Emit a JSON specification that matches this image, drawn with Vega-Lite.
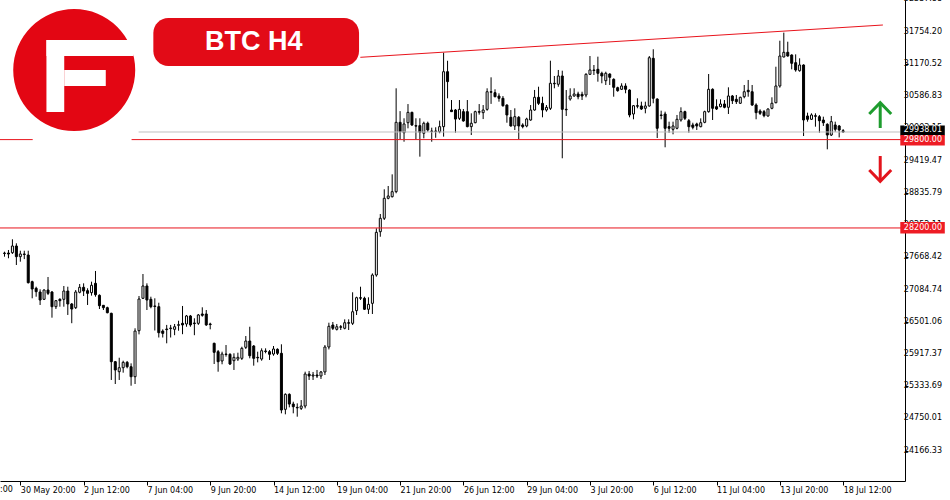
{
"$schema": "https://vega.github.io/schema/vega-lite/v6.json",
"width": 905, "height": 481,
"autosize": {"type": "none"},
"padding": {"left": 0, "top": 0, "right": 45, "bottom": 19},
"background": "white",
"config": {"view": {"stroke": null}, "font": "DejaVu Sans", "axis": {"labelOverlap": false, "labelBound": false, "labelFlush": false}},
"data": {"values": [{}]},
"datasets": {
"ticks": [{"v":24166.33},{"v":24750.01},{"v":25333.69},{"v":25917.37},{"v":26501.06},{"v":27084.74},{"v":27668.42},{"v":28252.11},{"v":28835.79},{"v":29419.47},{"v":30003.15},{"v":30586.83},{"v":31170.52},{"v":31754.20},{"v":32337.88}],
"candles": [
{"i":0,"o":27737,"h":27770,"l":27680,"c":27746},
{"i":1,"o":27746,"h":27801,"l":27651,"c":27728},
{"i":2,"o":27752,"h":27995,"l":27729,"c":27873},
{"i":3,"o":27873,"h":27922,"l":27529,"c":27680},
{"i":4,"o":27680,"h":27788,"l":27589,"c":27729},
{"i":5,"o":27729,"h":27788,"l":27636,"c":27719},
{"i":6,"o":27710,"h":27788,"l":27194,"c":27209},
{"i":7,"o":27227,"h":27245,"l":26926,"c":27095},
{"i":8,"o":27107,"h":27136,"l":26955,"c":27046},
{"i":9,"o":27040,"h":27089,"l":26805,"c":26895},
{"i":10,"o":26908,"h":27089,"l":26895,"c":27076},
{"i":11,"o":27076,"h":27312,"l":26985,"c":27016},
{"i":12,"o":27040,"h":27058,"l":26575,"c":26774},
{"i":13,"o":26774,"h":26895,"l":26732,"c":26883},
{"i":14,"o":26908,"h":26926,"l":26774,"c":26883},
{"i":15,"o":26908,"h":27149,"l":26774,"c":27058},
{"i":16,"o":27058,"h":27136,"l":26624,"c":26823},
{"i":17,"o":26823,"h":26841,"l":26475,"c":26732},
{"i":18,"o":26756,"h":27076,"l":26732,"c":27040},
{"i":19,"o":27035,"h":27185,"l":27016,"c":27125},
{"i":20,"o":27125,"h":27197,"l":26968,"c":27058},
{"i":21,"o":27064,"h":27107,"l":26805,"c":27016},
{"i":22,"o":27028,"h":27227,"l":26974,"c":27162},
{"i":23,"o":27197,"h":27421,"l":26955,"c":26991},
{"i":24,"o":26980,"h":26998,"l":26732,"c":26792},
{"i":25,"o":26799,"h":26805,"l":26714,"c":26756},
{"i":26,"o":26756,"h":26774,"l":26654,"c":26665},
{"i":27,"o":26654,"h":26665,"l":25447,"c":25778},
{"i":28,"o":25778,"h":25791,"l":25374,"c":25628},
{"i":29,"o":25597,"h":25850,"l":25447,"c":25669},
{"i":30,"o":25669,"h":25796,"l":25579,"c":25766},
{"i":31,"o":25766,"h":25791,"l":25658,"c":25687},
{"i":32,"o":25687,"h":25748,"l":25343,"c":25506},
{"i":33,"o":25506,"h":26383,"l":25374,"c":26333},
{"i":34,"o":26339,"h":26968,"l":26273,"c":26913},
{"i":35,"o":26926,"h":27366,"l":26913,"c":27149},
{"i":36,"o":27149,"h":27197,"l":26714,"c":26895},
{"i":37,"o":26908,"h":26955,"l":26745,"c":26774},
{"i":38,"o":26787,"h":26926,"l":26343,"c":26778},
{"i":39,"o":26774,"h":26846,"l":26216,"c":26303},
{"i":40,"o":26333,"h":26364,"l":26216,"c":26291},
{"i":41,"o":26370,"h":26444,"l":26111,"c":26359},
{"i":42,"o":26377,"h":26444,"l":26216,"c":26388},
{"i":43,"o":26364,"h":26461,"l":26258,"c":26411},
{"i":44,"o":26437,"h":26520,"l":26339,"c":26448},
{"i":45,"o":26473,"h":26787,"l":26276,"c":26444},
{"i":46,"o":26461,"h":26624,"l":26411,"c":26606},
{"i":47,"o":26606,"h":26624,"l":26411,"c":26444},
{"i":48,"o":26479,"h":26564,"l":26258,"c":26468},
{"i":49,"o":26473,"h":26642,"l":26444,"c":26624},
{"i":50,"o":26642,"h":26763,"l":26593,"c":26618},
{"i":51,"o":26642,"h":26714,"l":26426,"c":26444},
{"i":52,"o":26461,"h":26484,"l":26364,"c":26450},
{"i":53,"o":26111,"h":26122,"l":25736,"c":25948},
{"i":54,"o":25959,"h":25990,"l":25597,"c":25778},
{"i":55,"o":25791,"h":25959,"l":25731,"c":25917},
{"i":56,"o":25917,"h":26080,"l":25869,"c":25908},
{"i":57,"o":25912,"h":25930,"l":25718,"c":25736},
{"i":58,"o":25796,"h":25930,"l":25628,"c":25857},
{"i":59,"o":25826,"h":25941,"l":25791,"c":25857},
{"i":60,"o":25839,"h":26049,"l":25809,"c":26020},
{"i":61,"o":26038,"h":26243,"l":26008,"c":26152},
{"i":62,"o":26152,"h":26411,"l":25839,"c":25886},
{"i":63,"o":26062,"h":26080,"l":25706,"c":25839},
{"i":64,"o":25857,"h":25959,"l":25766,"c":25848},
{"i":65,"o":25826,"h":26020,"l":25796,"c":25977},
{"i":66,"o":25972,"h":26020,"l":25930,"c":25963},
{"i":67,"o":25959,"h":25990,"l":25809,"c":25912},
{"i":68,"o":25917,"h":26062,"l":25886,"c":26008},
{"i":69,"o":26002,"h":26020,"l":25899,"c":25930},
{"i":70,"o":25930,"h":26093,"l":24843,"c":24903},
{"i":71,"o":24915,"h":25205,"l":24825,"c":25187},
{"i":72,"o":25187,"h":25205,"l":24951,"c":25011},
{"i":73,"o":25011,"h":25053,"l":24843,"c":24963},
{"i":74,"o":24951,"h":25024,"l":24782,"c":24942},
{"i":75,"o":24933,"h":25083,"l":24903,"c":24975},
{"i":76,"o":24975,"h":25597,"l":24933,"c":25555},
{"i":77,"o":25555,"h":25610,"l":25447,"c":25519},
{"i":78,"o":25519,"h":25592,"l":25447,"c":25537},
{"i":79,"o":25537,"h":25628,"l":25483,"c":25519},
{"i":80,"o":25519,"h":25610,"l":25465,"c":25592},
{"i":81,"o":25592,"h":26080,"l":25537,"c":26044},
{"i":82,"o":26044,"h":26484,"l":26000,"c":26419},
{"i":83,"o":26442,"h":26497,"l":26352,"c":26383},
{"i":84,"o":26364,"h":26461,"l":26343,"c":26411},
{"i":85,"o":26411,"h":26442,"l":26352,"c":26402},
{"i":86,"o":26383,"h":26545,"l":26364,"c":26484},
{"i":87,"o":26484,"h":26545,"l":26352,"c":26475},
{"i":88,"o":26473,"h":27035,"l":26442,"c":26683},
{"i":89,"o":26702,"h":26955,"l":26624,"c":26937},
{"i":90,"o":26937,"h":27136,"l":26895,"c":26928},
{"i":91,"o":26926,"h":26955,"l":26714,"c":26727},
{"i":92,"o":26727,"h":26944,"l":26642,"c":26817},
{"i":93,"o":26835,"h":27378,"l":26642,"c":27348},
{"i":94,"o":27348,"h":28194,"l":27317,"c":28121},
{"i":95,"o":28132,"h":28453,"l":28041,"c":28375},
{"i":96,"o":28375,"h":28900,"l":28344,"c":28737},
{"i":97,"o":28737,"h":28960,"l":28719,"c":28779},
{"i":98,"o":28766,"h":29171,"l":28752,"c":28857},
{"i":99,"o":28857,"h":30729,"l":28828,"c":30113},
{"i":100,"o":30113,"h":30316,"l":29805,"c":29943},
{"i":101,"o":29925,"h":30186,"l":29762,"c":30083},
{"i":102,"o":30106,"h":30444,"l":30004,"c":30294},
{"i":103,"o":30294,"h":30305,"l":30047,"c":30065},
{"i":104,"o":30053,"h":30186,"l":29805,"c":30044},
{"i":105,"o":30053,"h":30186,"l":29491,"c":29933},
{"i":106,"o":29915,"h":30125,"l":29823,"c":30096},
{"i":107,"o":30096,"h":30125,"l":29943,"c":29975},
{"i":108,"o":29956,"h":30016,"l":29762,"c":29947},
{"i":109,"o":29947,"h":30023,"l":29833,"c":29956},
{"i":110,"o":29943,"h":30144,"l":29915,"c":30035},
{"i":111,"o":30035,"h":31373,"l":29854,"c":31030},
{"i":112,"o":31030,"h":31228,"l":30548,"c":30850},
{"i":113,"o":30336,"h":30517,"l":30300,"c":30306},
{"i":114,"o":30336,"h":30354,"l":29925,"c":30172},
{"i":115,"o":30185,"h":30517,"l":30155,"c":30348},
{"i":116,"o":30306,"h":30354,"l":30125,"c":30137},
{"i":117,"o":30306,"h":30517,"l":30023,"c":30035},
{"i":118,"o":30035,"h":30276,"l":29883,"c":30096},
{"i":119,"o":30106,"h":30324,"l":30096,"c":30306},
{"i":120,"o":30306,"h":30444,"l":30253,"c":30297},
{"i":121,"o":30288,"h":30426,"l":30172,"c":30336},
{"i":122,"o":30348,"h":30729,"l":30323,"c":30667},
{"i":123,"o":30667,"h":30928,"l":30447,"c":30658},
{"i":124,"o":30650,"h":30711,"l":30566,"c":30577},
{"i":125,"o":30589,"h":30638,"l":30487,"c":30548},
{"i":126,"o":30548,"h":30589,"l":30396,"c":30414},
{"i":127,"o":30426,"h":30439,"l":30106,"c":30246},
{"i":128,"o":30204,"h":30336,"l":30035,"c":30047},
{"i":129,"o":30047,"h":30367,"l":29974,"c":30215},
{"i":130,"o":30204,"h":30227,"l":29811,"c":30047},
{"i":131,"o":30065,"h":30096,"l":30004,"c":30035},
{"i":132,"o":30047,"h":30196,"l":30023,"c":30173},
{"i":133,"o":30155,"h":30426,"l":30142,"c":30336},
{"i":134,"o":30336,"h":30699,"l":30323,"c":30566},
{"i":135,"o":30566,"h":30758,"l":30426,"c":30457},
{"i":136,"o":30457,"h":30577,"l":30204,"c":30336},
{"i":137,"o":30336,"h":30426,"l":30306,"c":30384},
{"i":138,"o":30366,"h":31229,"l":30336,"c":30820},
{"i":139,"o":30820,"h":30952,"l":30729,"c":30811},
{"i":140,"o":30802,"h":31061,"l":30758,"c":30952},
{"i":141,"o":30952,"h":31048,"l":29462,"c":30349},
{"i":142,"o":30349,"h":30698,"l":30228,"c":30340},
{"i":143,"o":30535,"h":30729,"l":30505,"c":30590},
{"i":144,"o":30590,"h":30729,"l":30577,"c":30626},
{"i":145,"o":30626,"h":30667,"l":30530,"c":30577},
{"i":146,"o":30620,"h":30667,"l":30517,"c":30590},
{"i":147,"o":30608,"h":31001,"l":30566,"c":30983},
{"i":148,"o":30983,"h":31314,"l":30970,"c":31061},
{"i":149,"o":31061,"h":31151,"l":30970,"c":31052},
{"i":150,"o":31073,"h":31302,"l":30849,"c":31001},
{"i":151,"o":31001,"h":31030,"l":30820,"c":30952},
{"i":152,"o":30867,"h":31030,"l":30789,"c":31001},
{"i":153,"o":30988,"h":31001,"l":30789,"c":30928},
{"i":154,"o":30892,"h":30910,"l":30577,"c":30747},
{"i":155,"o":30740,"h":30758,"l":30667,"c":30686},
{"i":156,"o":30711,"h":30820,"l":30698,"c":30771},
{"i":157,"o":30771,"h":30820,"l":30639,"c":30711},
{"i":158,"o":30698,"h":30711,"l":30204,"c":30246},
{"i":159,"o":30264,"h":30426,"l":30168,"c":30414},
{"i":160,"o":30414,"h":30548,"l":30367,"c":30405},
{"i":161,"o":30409,"h":30487,"l":30336,"c":30354},
{"i":162,"o":30367,"h":30487,"l":30276,"c":30409},
{"i":163,"o":30409,"h":31314,"l":30396,"c":31283},
{"i":164,"o":31272,"h":31436,"l":30458,"c":30548},
{"i":165,"o":30535,"h":30548,"l":29829,"c":30005},
{"i":166,"o":30246,"h":30324,"l":30168,"c":30237},
{"i":167,"o":30264,"h":30306,"l":29661,"c":30005},
{"i":168,"o":30035,"h":30125,"l":29925,"c":30005},
{"i":169,"o":29986,"h":30125,"l":29896,"c":30047},
{"i":170,"o":30005,"h":30246,"l":29986,"c":30168},
{"i":171,"o":30155,"h":30385,"l":30125,"c":30306},
{"i":172,"o":30306,"h":30324,"l":30155,"c":30186},
{"i":173,"o":30142,"h":30173,"l":29925,"c":30034},
{"i":174,"o":30065,"h":30106,"l":29986,"c":30023},
{"i":175,"o":30083,"h":30106,"l":29974,"c":30047},
{"i":176,"o":30034,"h":30185,"l":30023,"c":30106},
{"i":177,"o":30113,"h":30324,"l":30096,"c":30306},
{"i":178,"o":30306,"h":30988,"l":30288,"c":30711},
{"i":179,"o":30711,"h":30729,"l":30155,"c":30367},
{"i":180,"o":30396,"h":30530,"l":30336,"c":30354},
{"i":181,"o":30396,"h":30530,"l":30385,"c":30445},
{"i":182,"o":30445,"h":30517,"l":30367,"c":30385},
{"i":183,"o":30385,"h":30747,"l":30264,"c":30590},
{"i":184,"o":30590,"h":30608,"l":30445,"c":30505},
{"i":185,"o":30530,"h":30608,"l":30445,"c":30487},
{"i":186,"o":30458,"h":30577,"l":30445,"c":30566},
{"i":187,"o":30577,"h":30789,"l":30548,"c":30667},
{"i":188,"o":30693,"h":30880,"l":30577,"c":30667},
{"i":189,"o":30667,"h":30789,"l":30409,"c":30427},
{"i":190,"o":30427,"h":30457,"l":30168,"c":30288},
{"i":191,"o":30318,"h":30349,"l":30246,"c":30276},
{"i":192,"o":30306,"h":30336,"l":30204,"c":30233},
{"i":193,"o":30228,"h":30367,"l":30215,"c":30354},
{"i":194,"o":30367,"h":30566,"l":30349,"c":30458},
{"i":195,"o":30468,"h":31120,"l":30458,"c":30771},
{"i":196,"o":30771,"h":31591,"l":30740,"c":31314},
{"i":197,"o":31296,"h":31737,"l":31290,"c":31381},
{"i":198,"o":31381,"h":31573,"l":31302,"c":31314},
{"i":199,"o":31332,"h":31345,"l":31073,"c":31182},
{"i":200,"o":31193,"h":31344,"l":31030,"c":31061},
{"i":201,"o":31048,"h":31272,"l":31030,"c":31151},
{"i":202,"o":31151,"h":31164,"l":29865,"c":30155},
{"i":203,"o":30228,"h":30288,"l":30125,"c":30168},
{"i":204,"o":30168,"h":30276,"l":30155,"c":30246},
{"i":205,"o":30233,"h":30276,"l":30034,"c":30222},
{"i":206,"o":30215,"h":30246,"l":29925,"c":30142},
{"i":207,"o":30155,"h":30215,"l":30047,"c":30106},
{"i":208,"o":30077,"h":30096,"l":29624,"c":29883},
{"i":209,"o":29883,"h":30228,"l":29865,"c":30125},
{"i":210,"o":30065,"h":30125,"l":29943,"c":29987},
{"i":211,"o":30047,"h":30065,"l":29840,"c":29974},
{"i":212,"o":29960,"h":29990,"l":29925,"c":29938}
]
},
"layer": [
{
"data": {"name": "candles"},
"mark": {"type": "rule", "color": "black", "strokeWidth": 1, "clip": true},
"encoding": {
"x": {"field": "i", "type": "quantitative", "scale": {"domain": [0.125, 226.375], "nice": false, "zero": false},
"axis": {"title": null, "values": [-12,4,20,36,52,68,84,100,116,132,148,164,180,196,212],
"labelExpr": "['26 May 04:00','30 May 20:00','2 Jun 12:00','7 Jun 04:00','9 Jun 20:00','14 Jun 12:00','19 Jun 04:00','21 Jun 20:00','26 Jun 12:00','29 Jun 04:00','3 Jul 20:00','6 Jul 12:00','11 Jul 04:00','13 Jul 20:00','18 Jul 12:00'][(datum.value+12)/16]",
"labelAlign": "left", "labelBaseline": "top", "labelPadding": 1, "labelDx": 0.5, "tickSize": 4, "tickColor": "black", "domainColor": "black", "labelColor": "black", "labelFont": "DejaVu Sans", "labelFontSize": 8, "labelOverlap": false, "labelBound": false, "labelFlush": false, "grid": false}},
"y": {"field": "l", "type": "quantitative", "scale": {"domain": [23617.4, 32328.3], "nice": false, "zero": false},
"axis": {"orient": "right", "title": null, "values": [24166.33,24750.01,25333.69,25917.37,26501.06,27084.74,27668.42,28252.11,28835.79,29419.47,30003.15,30586.83,31170.52,31754.20,32337.88],
"labels": false, "tickSize": 3, "tickColor": "black", "domainColor": "black", "grid": false}},
"y2": {"field": "h"}
}
},
{
"data": {"name": "candles"},
"mark": {"type": "bar", "size": 2, "stroke": "black", "strokeWidth": 1, "clip": true},
"encoding": {
"x": {"field": "i", "type": "quantitative", "scale": {"domain": [0.125, 226.375], "nice": false, "zero": false}},
"y": {"field": "o", "type": "quantitative", "scale": {"domain": [23617.4, 32328.3], "nice": false, "zero": false}},
"y2": {"field": "c"},
"fill": {"condition": {"test": "datum.c >= datum.o", "value": "white"}, "value": "black"}
}
},
{
"data": {"name": "ticks"},
"mark": {"type": "text", "font": "DejaVu Sans", "fontSize": 8, "color": "black", "align": "left", "baseline": "middle"},
"encoding": {"x": {"datum": 227.35}, "y": {"field": "v", "type": "quantitative"}, "text": {"field": "v", "type": "quantitative", "format": ".2f"}}
},
{
"mark": {"type": "text", "font": "DejaVu Sans", "fontSize": 8, "color": "black", "align": "left", "baseline": "top"},
"encoding": {"x": {"datum": -11.75}, "y": {"datum": 23527}, "text": {"value": "26 May 04:00"}}
},
{
"mark": {"type": "rule", "color": "#e8141c", "strokeWidth": 1},
"encoding": {"y": {"datum": 28200}}
},
{
"mark": {"type": "rule", "color": "#e8141c", "strokeWidth": 1},
"encoding": {"y": {"datum": 29800}}
},
{
"mark": {"type": "rule", "color": "#c0c0c0", "strokeWidth": 1},
"encoding": {"y": {"datum": 29938.01}, "x": {"datum": 33.9}, "x2": {"datum": 226.375}}
},
{
"mark": {"type": "rect", "color": "white"},
"encoding": {"x": {"datum": 7.125}, "x2": {"datum": 32.125}, "y": {"datum": 32346}, "y2": {"datum": 29738}}
},
{
"mark": {"type": "point", "shape": "circle", "filled": true, "size": 14884, "color": "#e30613", "opacity": 1},
"encoding": {"x": {"datum": 17.625}, "y": {"datum": 31060}}
},
{
"data": {"values": [
{"a": 10.6, "a2": 32.6, "b": 31604, "b2": 31314},
{"a": 10.6, "a2": 15.1, "b": 31604, "b2": 30300},
{"a": 15.1, "a2": 25.6, "b": 31061, "b2": 30771}
]},
"mark": {"type": "rect", "color": "white"},
"encoding": {"x": {"field": "a", "type": "quantitative"}, "x2": {"field": "a2"}, "y": {"field": "b", "type": "quantitative"}, "y2": {"field": "b2"}}
},
{
"mark": {"type": "rect", "color": "#e20b17", "cornerRadius": 15},
"encoding": {"x": {"datum": 37.625}, "x2": {"datum": 89.625}, "y": {"datum": 32002}, "y2": {"datum": 31133}}
},
{
"mark": {"type": "text", "font": "Liberation Sans", "fontWeight": "bold", "fontSize": 27, "color": "white", "align": "center", "baseline": "middle"},
"encoding": {"x": {"datum": 63.0}, "y": {"datum": 31560}, "text": {"value": "BTC  H4"}}
},
{
"mark": {"type": "rule", "color": "#e8141c", "strokeWidth": 1},
"encoding": {"x": {"datum": 89.95}, "x2": {"datum": 222.05}, "y": {"datum": 31290.6}, "y2": {"datum": 31875.5}}
},
{
"mark": {"type": "rule", "color": "#1e9c2e", "strokeWidth": 3},
"encoding": {"x": {"datum": 221.375}, "y": {"datum": 30463}, "y2": {"datum": 30010}}
},
{
"data": {"values": [{"a": 218.6, "b": 30264}, {"a": 221.375, "b": 30470}, {"a": 224.15, "b": 30264}]},
"mark": {"type": "line", "color": "#1e9c2e", "strokeWidth": 3, "strokeJoin": "miter"},
"encoding": {"x": {"field": "a", "type": "quantitative"}, "y": {"field": "b", "type": "quantitative"}}
},
{
"mark": {"type": "rule", "color": "#e3141c", "strokeWidth": 3},
"encoding": {"x": {"datum": 221.375}, "y": {"datum": 29503}, "y2": {"datum": 29050}}
},
{
"data": {"values": [{"a": 218.6, "b": 29250}, {"a": 221.375, "b": 29045}, {"a": 224.15, "b": 29250}]},
"mark": {"type": "line", "color": "#e3141c", "strokeWidth": 3, "strokeJoin": "miter"},
"encoding": {"x": {"field": "a", "type": "quantitative"}, "y": {"field": "b", "type": "quantitative"}}
},
{
"mark": {"type": "rect", "color": "black"},
"encoding": {"x": {"datum": 226.45}, "x2": {"datum": 237.7}, "y": {"datum": 30055}, "y2": {"datum": 29875}}
},
{
"mark": {"type": "rect", "color": "#ee1c24"},
"encoding": {"x": {"datum": 226.45}, "x2": {"datum": 237.7}, "y": {"datum": 29883}, "y2": {"datum": 29693}}
},
{
"mark": {"type": "rect", "color": "#ee1c24"},
"encoding": {"x": {"datum": 226.45}, "x2": {"datum": 237.7}, "y": {"datum": 28308}, "y2": {"datum": 28100}}
},
{
"mark": {"type": "text", "font": "DejaVu Sans", "fontSize": 8, "color": "white", "align": "left", "baseline": "middle"},
"encoding": {"x": {"datum": 227.35}, "y": {"datum": 29965}, "text": {"value": "29938.01"}}
},
{
"mark": {"type": "text", "font": "DejaVu Sans", "fontSize": 8, "color": "white", "align": "left", "baseline": "middle"},
"encoding": {"x": {"datum": 227.35}, "y": {"datum": 29787}, "text": {"value": "29800.00"}}
},
{
"mark": {"type": "text", "font": "DejaVu Sans", "fontSize": 8, "color": "white", "align": "left", "baseline": "middle"},
"encoding": {"x": {"datum": 227.35}, "y": {"datum": 28203}, "text": {"value": "28200.00"}}
}
]
}
